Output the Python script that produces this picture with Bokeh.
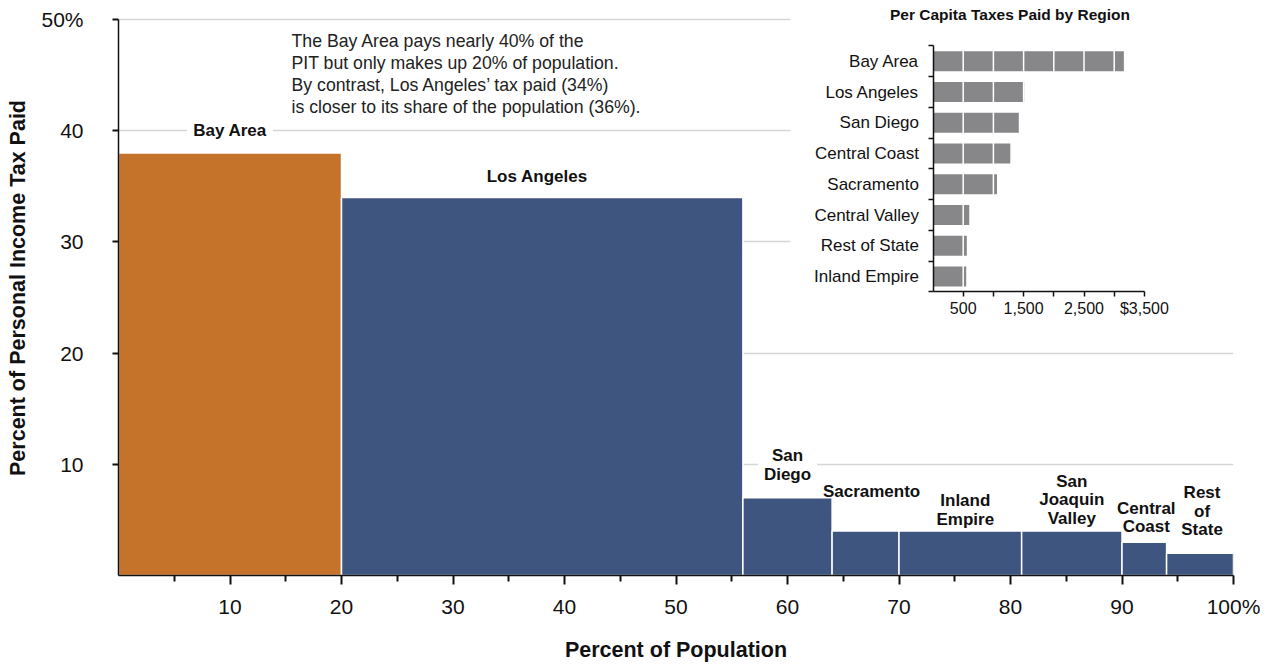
from bokeh.plotting import figure
from bokeh.models import (Range1d, LinearAxis, FixedTicker, BoxAnnotation, Label,
                          ColumnDataSource)
from bokeh.embed import file_html
from bokeh.resources import INLINE
from bokeh.core.properties import value

# ---------------- data ----------------
regions = ["Bay Area", "Los Angeles", "San Diego", "Sacramento", "Inland Empire",
           "San Joaquin Valley", "Central Coast", "Rest of State"]
bar_labels = ["Bay Area", "Los Angeles", "San\nDiego", "Sacramento", "Inland\nEmpire",
              "San\nJoaquin\nValley", "Central\nCoast", "Rest\nof\nState"]
population_share = [20, 36, 8, 6, 11, 9, 4, 6]
tax_share = [38, 34, 7, 4, 4, 4, 3, 2]

x_tick_values = [10, 20, 30, 40, 50, 60, 70, 80, 90, 100]
x_tick_labels = ["10", "20", "30", "40", "50", "60", "70", "80", "90", "100%"]
x_minor_ticks = [5, 15, 25, 35, 45, 55, 65, 75, 85, 95]
y_tick_values = [10, 20, 30, 40, 50]
y_tick_labels = ["10", "20", "30", "40", "50%"]

inset_regions = ["Bay Area", "Los Angeles", "San Diego", "Central Coast", "Sacramento",
                 "Central Valley", "Rest of State", "Inland Empire"]
inset_per_capita = [3160, 1510, 1420, 1280, 1060, 600, 560, 550]
inset_tick_values = [500, 1500, 2500, 3500]
inset_tick_labels = ["500", "1,500", "2,500", "$3,500"]
inset_minor_ticks = [1000, 2000, 3000]

inset_title = "Per Capita Taxes Paid by Region"
note_text = ("The Bay Area pays nearly 40% of the\n"
             "PIT but only makes up 20% of population.\n"
             "By contrast, Los Angeles\u2019 tax paid (34%)\n"
             "is closer to its share of the population (36%).")

# ---------------- layout constants (pixels) ----------------
W, H = 1273, 664
BL, BR, BT, BB = 118, 40, 0, 87
FW, FH = W - BL - BR, H - BT - BB
Y_TOP = 50 + 19 / (558 / 50)      # frame extends a little above the 50% line
FONT = "Liberation Sans"
ORANGE, BLUE, GRAY = "#c5732b", "#3e5580", "#87878a"
PX_X = FW / 100.0
PX_Y = FH / Y_TOP

# inset placement inside the frame (frame-relative pixels)
INSET_X0 = 814.5          # pixel of value 0
INSET_PPU = 60.4 / 1000   # pixels per dollar
INSET_ROW0 = 61.0         # pixel of first row centre
INSET_STEP = 30.86        # pixels per row

# label placement (pixels): gap above bar, horizontal nudge, background on/off
label_gaps = [13, 11, 14, 30, 2, 3, 6, 14]
label_dx = [0, -5, 0, 6, 5, 0, 2, 2]
label_bg = [1, 0, 1, 0, 0, 0, 0, 0]

# ---------------- figure ----------------
p = figure(width=W, height=H, x_range=Range1d(0, 100), y_range=Range1d(0, Y_TOP),
           output_backend="svg", toolbar_location=None,
           min_border_left=BL, min_border_right=BR, min_border_top=BT, min_border_bottom=BB)
p.outline_line_color = None
p.background_fill_color = "white"
p.border_fill_color = "white"

p.extra_x_ranges = {"inset_x": Range1d(-INSET_X0 / INSET_PPU, (FW - INSET_X0) / INSET_PPU)}
p.extra_y_ranges = {"inset_y": Range1d((FH - INSET_ROW0) / INSET_STEP, -INSET_ROW0 / INSET_STEP)}

# grid
p.xgrid.visible = False
p.ygrid.ticker = FixedTicker(ticks=y_tick_values)
p.ygrid.grid_line_color = "#d6d6d6"
p.ygrid.grid_line_width = 1.5
p.ygrid.level = "image"

# white background behind inset
p.add_layout(BoxAnnotation(left=(790 - BL) / PX_X, bottom=(BT + FH - 330) / PX_Y,
                           fill_color="white", fill_alpha=1, line_color=None, level="underlay"))

# main bars
lefts, rights = [], []
acc = 0
for s in population_share:
    lefts.append(acc)
    acc += s
    rights.append(acc)
colors = [ORANGE if r == "Bay Area" else BLUE for r in regions]
src = ColumnDataSource(dict(left=lefts, right=rights, top=tax_share,
                            bottom=[0] * len(regions), color=colors,
                            cx=[(a + b) / 2 for a, b in zip(lefts, rights)],
                            label=bar_labels, yoff=[-g for g in label_gaps],
                            xoff=label_dx, bga=label_bg))
p.quad(left="left", right="right", top="top", bottom="bottom", source=src,
       fill_color="color", line_color="white", line_width=1.5)
p.text(x="cx", y="top", text="label", source=src, x_offset="xoff", y_offset="yoff",
       text_align="center", text_baseline="bottom",
       text_font=value(FONT), text_font_style="bold", text_font_size="17px",
       text_color="#111111", text_line_height=0.98,
       background_fill_color="white", background_fill_alpha="bga", padding=(6, 0))

# note
p.add_layout(Label(x=(291 - BL) / PX_X, y=(BT + FH - 30.7) / PX_Y, text=note_text,
                   text_font=FONT, text_font_size="17.7px", text_color="#222222",
                   text_align="left", text_baseline="top", text_line_height=1.1))

# main axes
xa = p.xaxis[0]
xa.ticker = FixedTicker(ticks=x_tick_values, minor_ticks=x_minor_ticks)
xa.major_label_overrides = {v: t for v, t in zip(x_tick_values, x_tick_labels)}
xa.axis_label = "Percent of Population"
ya = p.yaxis[0]
ya.ticker = FixedTicker(ticks=y_tick_values, minor_ticks=[])
ya.major_label_overrides = {v: t for v, t in zip(y_tick_values, y_tick_labels)}
ya.axis_label = "Percent of Personal Income Tax Paid"
ya.bounds = (0, 50)
for ax in (xa, ya):
    ax.axis_line_color = "#111111"
    ax.axis_line_width = 1.5
    ax.major_tick_line_color = "#111111"
    ax.major_tick_line_width = 2
    ax.minor_tick_line_color = "#111111"
    ax.minor_tick_line_width = 2
    ax.major_tick_in = 0
    ax.minor_tick_in = 0
    ax.major_label_text_font = FONT
    ax.major_label_text_font_size = "21px"
    ax.major_label_text_color = "#111111"
    ax.axis_label_text_font = FONT
    ax.axis_label_text_font_style = "bold"
    ax.axis_label_text_font_size = "21.5px"
    ax.axis_label_text_color = "#111111"
xa.major_tick_out = 9
xa.minor_tick_out = 6
xa.major_label_standoff = 10
xa.axis_label_standoff = 17
ya.major_tick_out = 6
ya.major_label_standoff = 29
ya.axis_label_standoff = 8

# ---------------- inset ----------------
rows = list(range(len(inset_regions)))
p.hbar(y=rows, left=0, right=inset_per_capita, height=0.65, fill_color=GRAY,
       line_color=None, x_range_name="inset_x", y_range_name="inset_y")
sep = sorted(inset_tick_values + inset_minor_ticks)
p.segment(x0=sep, x1=sep, y0=[-0.4] * len(sep), y1=[len(rows) - 0.6] * len(sep),
          line_color="white", line_width=1.5, x_range_name="inset_x", y_range_name="inset_y")

iy = LinearAxis(x_range_name="inset_x", y_range_name="inset_y", fixed_location=0,
                bounds=(-0.5, len(rows) - 0.5),
                ticker=FixedTicker(ticks=rows, minor_ticks=[r - 0.5 for r in rows] + [len(rows) - 0.5]),
                major_label_overrides={r: n for r, n in zip(rows, inset_regions)})
ix = LinearAxis(x_range_name="inset_x", y_range_name="inset_y", fixed_location=len(rows) - 0.5,
                bounds=(0, inset_tick_values[-1]),
                ticker=FixedTicker(ticks=inset_tick_values, minor_ticks=inset_minor_ticks),
                major_label_overrides={v: t for v, t in zip(inset_tick_values, inset_tick_labels)})
for ax in (iy, ix):
    ax.axis_line_color = "#111111"
    ax.axis_line_width = 1.5
    ax.major_tick_line_color = "#111111"
    ax.major_tick_line_width = 1.5
    ax.minor_tick_line_color = "#111111"
    ax.minor_tick_line_width = 1.5
    ax.major_tick_in = 0
    ax.minor_tick_in = 0
    ax.major_label_text_font = FONT
    ax.major_label_text_color = "#111111"
iy.major_tick_out = 0
iy.minor_tick_out = 5
iy.major_label_standoff = 9
iy.major_label_text_font_size = "17px"
ix.major_tick_out = 5
ix.minor_tick_out = 5
ix.major_label_standoff = 3
ix.major_label_text_font_size = "16px"
p.add_layout(iy, "left")
p.add_layout(ix, "below")

p.add_layout(Label(x=(1009.5 - BL - INSET_X0) / INSET_PPU, y=(14 - BT - INSET_ROW0) / INSET_STEP,
                   x_range_name="inset_x", y_range_name="inset_y", text=inset_title,
                   text_font=FONT, text_font_style="bold", text_font_size="15.5px",
                   text_color="#111111", text_align="center", text_baseline="middle"))

open("out.html", "w").write(file_html(p, INLINE))
